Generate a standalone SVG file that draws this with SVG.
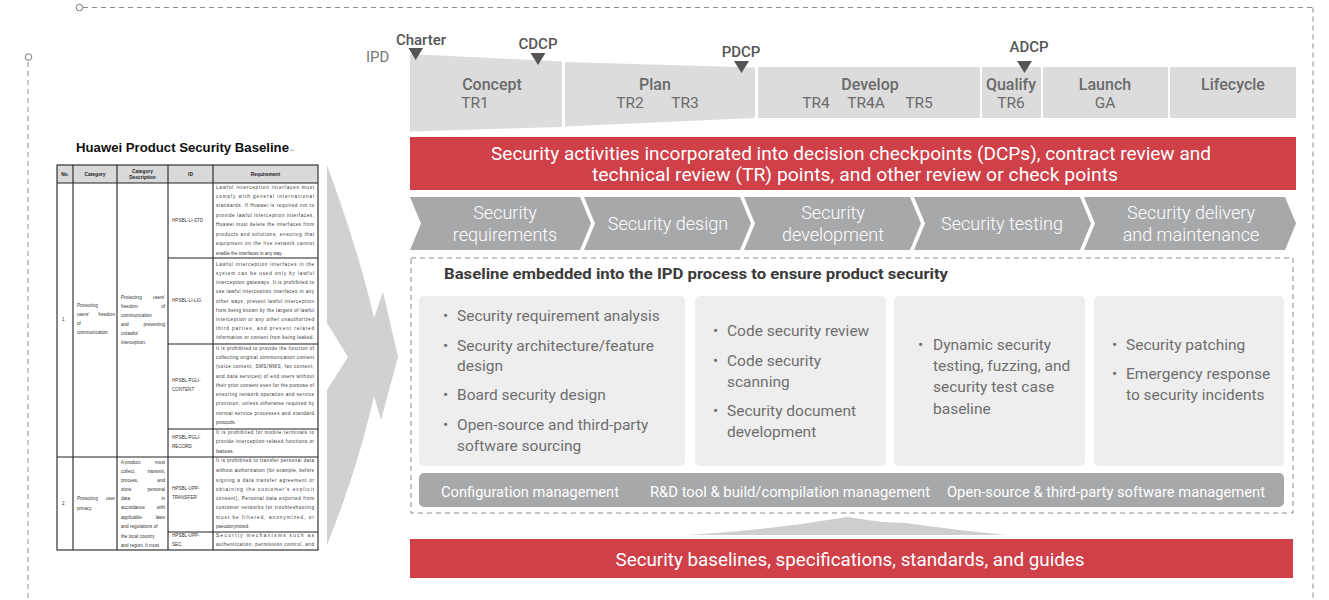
<svg xmlns="http://www.w3.org/2000/svg" width="1329" height="600" viewBox="0 0 1329 600">
  <style>
    .f{font-family:Roboto,"Liberation Sans",sans-serif}
    .frame{fill:none;stroke:#8c8c8c;stroke-width:1;stroke-dasharray:5 4}
    .dot{fill:#fff;stroke:#7a7a7a;stroke-width:1}
    .seg{fill:#dcdcdc}
    .phase{font-size:16px;font-weight:500;fill:#6a6a6a;text-anchor:middle}
    .tr{font-size:15.5px;fill:#6a6a6a;text-anchor:middle}
    .ms{font-size:15px;font-weight:500;fill:#555;text-anchor:middle}
    .tri{fill:#555}
    .red{fill:#cf4049}
    .wt{font-size:18px;fill:#fff;text-anchor:middle}
    .chev{fill:#a7a8aa}
    .ct{font-size:18px;font-weight:300;fill:#fff;text-anchor:middle}
    .card{fill:#eeeeee}
    .bl{font-size:15.5px;fill:#6e6e6e}
    .bar{fill:#a7a8aa}
    .bt{font-size:14px;fill:#fff}
    .tb{font-family:"Liberation Sans",Arial,sans-serif;font-size:4.6px;fill:#333}
    .te{text-anchor:end}
    .th{font-family:"Liberation Sans",Arial,sans-serif;font-size:4.8px;font-weight:bold;fill:#222;text-anchor:middle}
    .grid{stroke:#222;stroke-width:1.1;fill:none}
  </style>

  <!-- outer dashed frame -->
  <g id="frame">
    <line class="frame" x1="83" y1="7.5" x2="1313" y2="7.5"/>
    <line class="frame" x1="1313" y1="7.5" x2="1313" y2="600"/>
    <line class="frame" x1="28" y1="62" x2="28" y2="600"/>
    <circle class="dot" cx="79.5" cy="7.5" r="3.3"/>
    <circle class="dot" cx="28.5" cy="57" r="3.3"/>
  </g>

  <!-- baseline document excerpt -->
  <g id="baseline-doc">
    <text x="76" y="152" font-family="'Liberation Sans',Arial,sans-serif" font-size="12.5" font-weight="bold" fill="#111" textLength="213" lengthAdjust="spacingAndGlyphs">Huawei Product Security Baseline</text>
    <text x="290" y="152" font-family="'Liberation Sans',Arial,sans-serif" font-size="6" fill="#aaa">↵</text>
    <rect x="57" y="165" width="261" height="18" fill="#d9d9d9"/>
    <g class="grid">
      <rect x="57" y="165" width="261" height="385"/>
      <line x1="57" y1="183" x2="318" y2="183"/>
      <line x1="57" y1="457" x2="318" y2="457"/>
      <line x1="73" y1="165" x2="73" y2="550"/>
      <line x1="117" y1="165" x2="117" y2="550"/>
      <line x1="168" y1="165" x2="168" y2="550"/>
      <line x1="213" y1="165" x2="213" y2="550"/>
      <line x1="168" y1="258" x2="318" y2="258"/>
      <line x1="168" y1="344" x2="318" y2="344"/>
      <line x1="168" y1="429" x2="318" y2="429"/>
      <line x1="168" y1="532" x2="318" y2="532"/>
    </g>
    <text class="th" x="65" y="176">No.</text>
    <text class="th" x="95" y="176">Category</text>
    <text class="th" x="142.5" y="172.5">Category</text>
    <text class="th" x="142.5" y="179">Description</text>
    <text class="th" x="190.5" y="176">ID</text>
    <text class="th" x="265.5" y="176">Requirement</text>

    <!-- row 1 -->
    <g class="tb">
      <text x="62" y="321">1</text>
      <text x="77" y="306.5">Protecting</text>
      <text x="77" y="315.5">users'</text><text class="te" x="115" y="315.5">freedom</text>
      <text x="77" y="324.5">of</text>
      <text x="77" y="334">communication</text>
      <text x="121" y="298.5">Protecting</text><text class="te" x="165" y="298.5">users'</text>
      <text x="121" y="307.5">freedom</text><text class="te" x="165" y="307.5">of</text>
      <text x="121" y="316.5">communication</text>
      <text x="121" y="325.5">and</text><text class="te" x="165" y="325.5">preventing</text>
      <text x="121" y="334.5">unlawful</text>
      <text x="121" y="344">interception.</text>

      <text x="172" y="222">HPSBL-LI-STD</text>
      <text x="172" y="302">HPSBL-LI-LIG</text>
      <text x="172" y="381.5">HPSBL-PGLI-</text>
      <text x="172" y="390.5">CONTENT</text>
      <text x="172" y="438.5">HPSBL-PGLI-</text>
      <text x="172" y="447.5">RECORD</text>
    </g>

    <g class="tb">
      <text x="216" y="188.6" textLength="98" lengthAdjust="spacing">Lawful interception interfaces must</text>
      <text x="216" y="198.1" textLength="98" lengthAdjust="spacing">comply with general international</text>
      <text x="216" y="207.4" textLength="98" lengthAdjust="spacing">standards. If Huawei is required not to</text>
      <text x="216" y="216.6" textLength="98" lengthAdjust="spacing">provide lawful interception interfaces,</text>
      <text x="216" y="226.1" textLength="98" lengthAdjust="spacing">Huawei must delete the interfaces from</text>
      <text x="216" y="235.6" textLength="98" lengthAdjust="spacing">products and solutions, ensuring that</text>
      <text x="216" y="244.9" textLength="98" lengthAdjust="spacing">equipment on the live network cannot</text>
      <text x="216" y="254.6">enable the interfaces in any way.</text>

      <text x="216" y="265.5" textLength="98" lengthAdjust="spacing">Lawful interception interfaces in the</text>
      <text x="216" y="274.8" textLength="98" lengthAdjust="spacing">system can be used only by lawful</text>
      <text x="216" y="284" textLength="98" lengthAdjust="spacing">interception gateways. It is prohibited to</text>
      <text x="216" y="293.3" textLength="98" lengthAdjust="spacing">use lawful interception interfaces in any</text>
      <text x="216" y="302.5" textLength="98" lengthAdjust="spacing">other ways, prevent lawful interception</text>
      <text x="216" y="311.8" textLength="98" lengthAdjust="spacing">from being known by the targets of lawful</text>
      <text x="216" y="321" textLength="98" lengthAdjust="spacing">interception or any other unauthorized</text>
      <text x="216" y="330.3" textLength="98" lengthAdjust="spacing">third parties, and prevent related</text>
      <text x="216" y="339.3" textLength="98" lengthAdjust="spacing">information or content from being leaked.</text>

      <text x="216" y="349.6" textLength="98" lengthAdjust="spacing">It is prohibited to provide the function of</text>
      <text x="216" y="358.9" textLength="98" lengthAdjust="spacing">collecting original communication content</text>
      <text x="216" y="368.2" textLength="98" lengthAdjust="spacing">(voice content, SMS/MMS, fax content,</text>
      <text x="216" y="377.5" textLength="98" lengthAdjust="spacing">and data services) of end users without</text>
      <text x="216" y="386.8" textLength="98" lengthAdjust="spacing">their prior consent even for the purpose of</text>
      <text x="216" y="396.1" textLength="98" lengthAdjust="spacing">ensuring network operation and service</text>
      <text x="216" y="405.4" textLength="98" lengthAdjust="spacing">provision, unless otherwise required by</text>
      <text x="216" y="414.7" textLength="98" lengthAdjust="spacing">normal service processes and standard</text>
      <text x="216" y="424">protocols.</text>

      <text x="216" y="434.3" textLength="98" lengthAdjust="spacing">It is prohibited for mobile terminals to</text>
      <text x="216" y="443.3" textLength="98" lengthAdjust="spacing">provide interception-related functions or</text>
      <text x="216" y="453.3">features.</text>
    </g>

    <!-- row 2 -->
    <g class="tb">
      <text x="62" y="505">2</text>
      <text x="77" y="500">Protecting</text><text class="te" x="115" y="500">user</text>
      <text x="77" y="509.5">privacy</text>
      <text x="121" y="463.6">A product</text><text class="te" x="165" y="463.6">must</text>
      <text x="121" y="472.6">collect,</text><text class="te" x="165" y="472.6">transmit,</text>
      <text x="121" y="481.6">process,</text><text class="te" x="165" y="481.6">and</text>
      <text x="121" y="490.6">store</text><text class="te" x="165" y="490.6">personal</text>
      <text x="121" y="499.6">data</text><text class="te" x="165" y="499.6">in</text>
      <text x="121" y="509.3">accordance</text><text class="te" x="165" y="509.3">with</text>
      <text x="121" y="518.6">applicable</text><text class="te" x="165" y="518.6">laws</text>
      <text x="121" y="528.3">and regulations of</text>
      <text x="121" y="537.6">the local country</text>
      <text x="121" y="547.3">and region. It must</text>
      <text x="172" y="489.5">HPSBL-UPP-</text>
      <text x="172" y="498.5">TRANSFER</text>
      <text x="172" y="537">HPSBL-UPP-</text>
      <text x="172" y="546">SEC</text>
    </g>
    <g class="tb">
      <text x="216" y="462.3" textLength="98" lengthAdjust="spacing">It is prohibited to transfer personal data</text>
      <text x="216" y="471.6" textLength="98" lengthAdjust="spacing">without authorization (for example, before</text>
      <text x="216" y="481.6" textLength="98" lengthAdjust="spacing">signing a data transfer agreement or</text>
      <text x="216" y="490.9" textLength="98" lengthAdjust="spacing">obtaining the customer's explicit</text>
      <text x="216" y="499.9" textLength="98" lengthAdjust="spacing">consent). Personal data exported from</text>
      <text x="216" y="509.3" textLength="98" lengthAdjust="spacing">customer networks for troubleshooting</text>
      <text x="216" y="518.9" textLength="98" lengthAdjust="spacing">must be filtered, anonymized, or</text>
      <text x="216" y="528.3">pseudonymized.</text>
      <text x="216" y="536.6" textLength="98" lengthAdjust="spacing">Security mechanisms such as</text>
      <text x="216" y="545.9" textLength="98" lengthAdjust="spacing">authentication, permission control, and</text>
    </g>
  </g>

  <!-- connectors: large arrow into the process, upward arrow from the base -->
  <g id="connectors" fill="#d0d1d3">
    <path d="M327,165 C345,215 362,265 374,318 L383,292 L398,357 L381,420 L374,396 C362,450 345,500 327,545 L327,390 L348,357 L327,323 Z"/>
    <path d="M687,535 C740,532 780,527 808,523 L847,517 L882,522 L905,523 C935,527 975,532 1007,535 Z" fill="#cdcecf"/>
  </g>

  <!-- IPD timeline -->
  <g id="ipd-timeline" class="f">
    <text x="366" y="62" font-size="15" fill="#777">IPD</text>
    <path class="seg" d="M410,54 L562,61.5 L562,127 L410,131.5 Z"/>
    <path class="seg" d="M565,62 L755,67.5 L755,118 L565,126.5 Z"/>
    <rect class="seg" x="758" y="67" width="222" height="51"/>
    <rect class="seg" x="982" y="67" width="59" height="51"/>
    <rect class="seg" x="1043" y="67" width="125" height="51"/>
    <rect class="seg" x="1170" y="67" width="126" height="51"/>

    <text class="phase" x="492" y="90">Concept</text>
    <text class="tr" x="475" y="108">TR1</text>
    <text class="phase" x="655" y="90">Plan</text>
    <text class="tr" x="630" y="108">TR2</text>
    <text class="tr" x="685" y="108">TR3</text>
    <text class="phase" x="870" y="90">Develop</text>
    <text class="tr" x="816" y="108">TR4</text>
    <text class="tr" x="866" y="108">TR4A</text>
    <text class="tr" x="919" y="108">TR5</text>
    <text class="phase" x="1011" y="90">Qualify</text>
    <text class="tr" x="1011" y="108">TR6</text>
    <text class="phase" x="1105" y="90">Launch</text>
    <text class="tr" x="1105" y="108">GA</text>
    <text class="phase" x="1233" y="90">Lifecycle</text>

    <text class="ms" x="421" y="45">Charter</text>
    <path class="tri" d="M408.5,48 L423,48 L415.7,60 Z"/>
    <text class="ms" x="538" y="49">CDCP</text>
    <path class="tri" d="M530.5,53 L545.5,53 L538,65 Z"/>
    <text class="ms" x="741" y="57">PDCP</text>
    <path class="tri" d="M734,61 L749,61 L741.5,73 Z"/>
    <text class="ms" x="1029" y="52">ADCP</text>
    <path class="tri" d="M1017,61 L1032,61 L1024.5,73 Z"/>
  </g>

  <!-- checkpoints banner -->
  <g id="dcp-banner" class="f">
    <rect class="red" x="410" y="137" width="886" height="53"/>
    <text class="wt" x="851" y="160" textLength="720" lengthAdjust="spacingAndGlyphs">Security activities incorporated into decision checkpoints (DCPs), contract review and</text>
    <text class="wt" x="855" y="181" textLength="526" lengthAdjust="spacingAndGlyphs">technical review (TR) points, and other review or check points</text>
  </g>

  <!-- security activity chevrons -->
  <g id="stage-requirements" class="f">
    <path class="chev" d="M410,197 L580,197 L591,223.5 L580,250 L410,250 L421,223.5 Z"/>
    <text class="ct" x="505" y="219">Security</text>
    <text class="ct" x="505" y="241">requirements</text>
  </g>
  <g id="stage-design" class="f">
    <path class="chev" d="M584,197 L740,197 L751,223.5 L740,250 L584,250 L595,223.5 Z"/>
    <text class="ct" x="668" y="230">Security design</text>
  </g>
  <g id="stage-development" class="f">
    <path class="chev" d="M744,197 L910,197 L921,223.5 L910,250 L744,250 L755,223.5 Z"/>
    <text class="ct" x="833" y="219">Security</text>
    <text class="ct" x="833" y="241">development</text>
  </g>
  <g id="stage-testing" class="f">
    <path class="chev" d="M914,197 L1080,197 L1091,223.5 L1080,250 L914,250 L925,223.5 Z"/>
    <text class="ct" x="1002" y="230">Security testing</text>
  </g>
  <g id="stage-delivery" class="f">
    <path class="chev" d="M1084,197 L1285,197 L1296,223.5 L1285,250 L1084,250 L1095,223.5 Z"/>
    <text class="ct" x="1191" y="219">Security delivery</text>
    <text class="ct" x="1191" y="241">and maintenance</text>
  </g>

  <!-- baseline embedded into IPD -->
  <g id="baseline-embedded" class="f">
    <rect x="411" y="258" width="882" height="255" fill="none" stroke="#8c8c8c" stroke-width="1" stroke-dasharray="5 4"/>
    <text x="444" y="279" font-size="15" font-weight="bold" fill="#3a3a3a" textLength="504" lengthAdjust="spacingAndGlyphs">Baseline embedded into the IPD process to ensure product security</text>
  </g>

  <g id="card-requirements-design" class="f">
    <rect class="card" x="419" y="296" width="266" height="170" rx="5"/>
    <g class="bl">
      <text x="443" y="321">•</text><text x="457" y="321">Security requirement analysis</text>
      <text x="443" y="351">•</text><text x="457" y="351">Security architecture/feature</text>
      <text x="457" y="371">design</text>
      <text x="443" y="400">•</text><text x="457" y="400">Board security design</text>
      <text x="443" y="430">•</text><text x="457" y="430">Open-source and third-party</text>
      <text x="457" y="451">software sourcing</text>
    </g>
  </g>
  <g id="card-development" class="f">
    <rect class="card" x="695" y="296" width="191" height="170" rx="5"/>
    <g class="bl">
      <text x="713" y="336">•</text><text x="727" y="336">Code security review</text>
      <text x="713" y="366">•</text><text x="727" y="366">Code security</text>
      <text x="727" y="387">scanning</text>
      <text x="713" y="416">•</text><text x="727" y="416">Security document</text>
      <text x="727" y="437">development</text>
    </g>
  </g>
  <g id="card-testing" class="f">
    <rect class="card" x="894" y="296" width="191" height="170" rx="5"/>
    <g class="bl">
      <text x="918" y="350">•</text><text x="933" y="350">Dynamic security</text>
      <text x="933" y="371">testing, fuzzing, and</text>
      <text x="933" y="392">security test case</text>
      <text x="933" y="414">baseline</text>
    </g>
  </g>
  <g id="card-delivery" class="f">
    <rect class="card" x="1094" y="296" width="190" height="170" rx="5"/>
    <g class="bl">
      <text x="1112" y="350">•</text><text x="1126" y="350">Security patching</text>
      <text x="1112" y="379">•</text><text x="1126" y="379">Emergency response</text>
      <text x="1126" y="400">to security incidents</text>
    </g>
  </g>

  <g id="management-bar" class="f">
    <rect class="bar" x="419" y="473" width="865" height="34" rx="5"/>
    <text class="bt" x="441" y="497" textLength="178" lengthAdjust="spacingAndGlyphs">Configuration management</text>
    <text class="bt" x="650" y="497" textLength="280" lengthAdjust="spacingAndGlyphs">R&amp;D tool &amp; build/compilation management</text>
    <text class="bt" x="947" y="497" textLength="318" lengthAdjust="spacingAndGlyphs">Open-source &amp; third-party software management</text>
  </g>

  <!-- foundation banner -->
  <g id="foundation" class="f">
    <rect class="red" x="410" y="539" width="883" height="39"/>
    <text class="wt" x="850" y="566" textLength="469" lengthAdjust="spacingAndGlyphs">Security baselines, specifications, standards, and guides</text>
  </g>
</svg>
